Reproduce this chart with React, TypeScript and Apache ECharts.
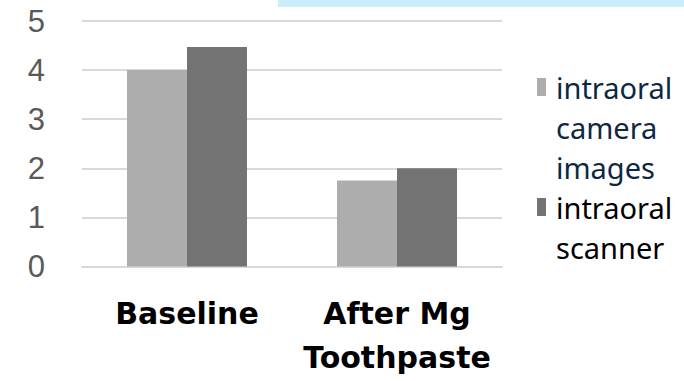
import React, { useEffect, useRef } from "react";
import * as echarts from "echarts";

const categories = ["Baseline", "After Mg\nToothpaste"];
const seriesNames = ["intraoral camera images", "intraoral scanner"];
const legendLabels = ["intraoral\ncamera\nimages", "intraoral\nscanner"];
const cameraValues = [4.0, 1.75];
const scannerValues = [4.47, 2.0];
const yMin = 0;
const yMax = 5;
const yInterval = 1;

const colors = ["#ADADAD", "#737373"];

export default function App() {
  const ref = useRef<HTMLDivElement>(null);

  useEffect(() => {
    if (!ref.current) return;
    const chart = echarts.init(ref.current, undefined, { renderer: "svg" });
    const icon1 =
      "path://M0,0h0.01v0.01h-0.01z M0,11h9v18h-9z M0,119.99h0.01v0.01h-0.01z";
    const icon2 =
      "path://M0,0h0.01v0.01h-0.01z M0,31h9v18h-9z M0,119.99h0.01v0.01h-0.01z";
    chart.setOption({
      animation: false,
      backgroundColor: "#ffffff",
      grid: { left: 82, right: 182, top: 21, bottom: 114.5, containLabel: false },
      xAxis: {
        type: "category",
        data: categories,
        axisTick: { show: false },
        axisLine: { show: true, lineStyle: { color: "#D9D9D9", width: 2 } },
        axisLabel: {
          interval: 0,
          margin: 25,
          color: "#000000",
          fontFamily: "DejaVu Sans",
          fontWeight: "bold",
          fontSize: 30,
          lineHeight: 44,
        },
      },
      yAxis: {
        type: "value",
        min: yMin,
        max: yMax,
        interval: yInterval,
        axisLine: { show: false },
        axisTick: { show: false },
        splitLine: { lineStyle: { color: "#D9D9D9", width: 2 } },
        axisLabel: {
          margin: 37,
          color: "#595959",
          fontFamily: "Liberation Sans",
          fontSize: 31,
        },
      },
      legend: {
        orient: "vertical",
        left: 537,
        top: 67,
        padding: 0,
        itemGap: -20,
        itemWidth: 9,
        itemHeight: 120,
        formatter: (name: string) => legendLabels[seriesNames.indexOf(name)],
        textStyle: {
          fontFamily: "Noto Sans",
          fontSize: 29,
          lineHeight: 40,
        },
        data: [
          {
            name: seriesNames[0],
            icon: icon1,
            textStyle: { color: "#0E2841", padding: [0, 0, 0, 5] },
          },
          {
            name: seriesNames[1],
            icon: icon2,
            textStyle: { color: "#000000", padding: [0, 0, 0, 5] },
          },
        ],
      },
      graphic: [
        {
          type: "rect",
          shape: { x: 278, y: 0, width: 406, height: 7 },
          style: { fill: "#CAEEFB" },
          silent: true,
        },
      ],
      series: [
        {
          name: seriesNames[0],
          type: "bar",
          data: cameraValues,
          itemStyle: { color: colors[0] },
          barGap: "0%",
          barCategoryGap: "42.857%",
        },
        {
          name: seriesNames[1],
          type: "bar",
          data: scannerValues,
          itemStyle: { color: colors[1] },
          barGap: "0%",
          barCategoryGap: "42.857%",
        },
      ],
    });
    return () => chart.dispose();
  }, []);

  return (
    <div
      ref={ref}
      style={{ position: "fixed", left: 0, top: 0, width: 684, height: 381 }}
    />
  );
}
